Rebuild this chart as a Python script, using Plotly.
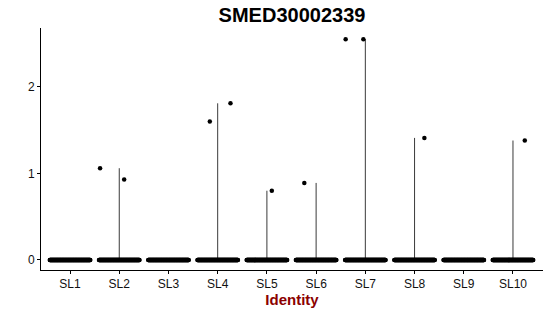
import numpy as np
import plotly.graph_objects as go

categories = ["SL1", "SL2", "SL3", "SL4", "SL5", "SL6", "SL7", "SL8", "SL9", "SL10"]
# non-zero expression values per group
nonzero_values = {
    "SL1": [],
    "SL2": [1.06, 0.93],
    "SL3": [],
    "SL4": [1.60, 1.81],
    "SL5": [0.80],
    "SL6": [0.89],
    "SL7": [2.55, 2.55],
    "SL8": [1.41],
    "SL9": [],
    "SL10": [1.38],
}
# horizontal jitter offsets of the non-zero points
nonzero_jitter = {
    "SL1": [],
    "SL2": [-0.39, 0.10],
    "SL3": [],
    "SL4": [-0.16, 0.26],
    "SL5": [0.10],
    "SL6": [-0.24],
    "SL7": [-0.40, -0.04],
    "SL8": [0.20],
    "SL9": [],
    "SL10": [0.24],
}
n_zero_cells = 150
y_ticks = [0, 1, 2]

fig = go.Figure()

# violins (collapsed to thin lines because nearly all values are zero)
for i, c in enumerate(categories):
    vals = nonzero_values[c]
    if vals:
        fig.add_trace(go.Scatter(x=[i, i], y=[0, max(vals)], mode="lines",
                                 line=dict(color="#3a3a3a", width=1),
                                 hoverinfo="skip", showlegend=False))

# zero-valued cells, jittered across the group width
zx, zy = [], []
offs = np.linspace(-0.41, 0.41, n_zero_cells)
for i, c in enumerate(categories):
    zx.extend(list(i + offs))
    zy.extend([0.0] * n_zero_cells)
fig.add_trace(go.Scatter(x=zx, y=zy, mode="markers",
                         marker=dict(color="black", size=4.6, line=dict(width=0)),
                         showlegend=False))

# non-zero cells
px, py = [], []
for i, c in enumerate(categories):
    for v, j in zip(nonzero_values[c], nonzero_jitter[c]):
        px.append(i + j)
        py.append(v)
fig.add_trace(go.Scatter(x=px, y=py, mode="markers",
                         marker=dict(color="black", size=4.5, line=dict(width=0)),
                         showlegend=False))

fig.update_layout(
    width=550, height=316,
    margin=dict(l=41, r=7, t=28, b=46),
    paper_bgcolor="white", plot_bgcolor="white",
    font=dict(family="Liberation Sans, Arial, sans-serif", color="black"),
    title=dict(text="<b>SMED30002339</b>", x=292 / 550, xanchor="center",
               y=1 - 15 / 316, yanchor="middle",
               font=dict(size=20, color="black")),
    showlegend=False,
)
fig.update_xaxes(
    range=[-0.59, 9.61], tickmode="array", tickvals=list(range(len(categories))),
    ticktext=categories, showgrid=False, zeroline=False,
    showline=True, linecolor="black", linewidth=1,
    ticks="outside", ticklen=3, tickcolor="black", tickwidth=1,
    tickfont=dict(size=12, color="#111111"),
    title=dict(text="<b>Identity</b>", font=dict(size=15, color="#8B0000"), standoff=2),
)
fig.update_yaxes(
    range=[-0.116, 2.68], tickmode="array", tickvals=y_ticks,
    ticktext=[str(t) for t in y_ticks], showgrid=False, zeroline=False,
    showline=True, linecolor="black", linewidth=1,
    ticks="outside", ticklen=3, tickcolor="black", tickwidth=1,
    tickfont=dict(size=12, color="#111111"),
)

fig.write_html("out.html")
